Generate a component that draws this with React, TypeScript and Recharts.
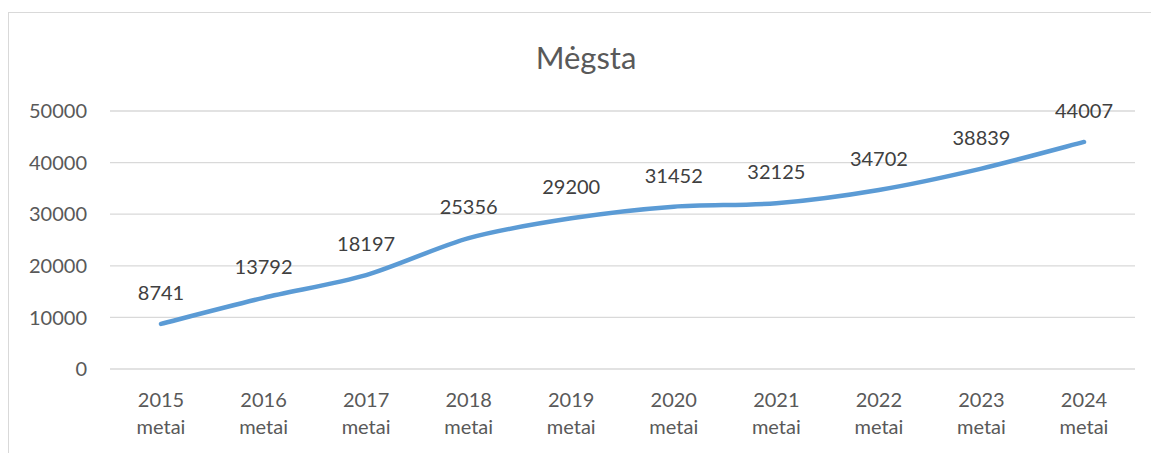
import { LineChart, Line, XAxis, YAxis, CartesianGrid, LabelList } from "recharts"

const years = ["2015", "2016", "2017", "2018", "2019", "2020", "2021", "2022", "2023", "2024"]
const likes = [8741, 13792, 18197, 25356, 29200, 31452, 32125, 34702, 38839, 44007]
const yTicks = [0, 10000, 20000, 30000, 40000, 50000]

const data = years.map((y, i) => ({ year: y, value: likes[i] }))

const font = "Lato, Carlito, Calibri, sans-serif"

// Catmull-Rom style smoothing, close to Excel's "smoothed line"
function smoothCurve(context: any) {
  let pts: number[][] = []
  const k = 1 / 7
  return {
    areaStart() {},
    areaEnd() {},
    lineStart() {
      pts = []
    },
    point(x: number, y: number) {
      pts.push([+x, +y])
    },
    lineEnd() {
      if (!pts.length) return
      context.moveTo(pts[0][0], pts[0][1])
      for (let i = 0; i < pts.length - 1; i++) {
        const p0 = pts[i - 1] || pts[i]
        const p1 = pts[i]
        const p2 = pts[i + 1]
        const p3 = pts[i + 2] || p2
        context.bezierCurveTo(
          p1[0] + (p2[0] - p0[0]) * k,
          p1[1] + (p2[1] - p0[1]) * k,
          p2[0] - (p3[0] - p1[0]) * k,
          p2[1] - (p3[1] - p1[1]) * k,
          p2[0],
          p2[1]
        )
      }
    },
  }
}

function YearTick(props: any) {
  const { x, y, payload } = props
  return (
    <text x={x} y={y} textAnchor="middle" fill="#595959" fontSize={20} fontFamily={font}>
      <tspan x={x} dy={38}>{payload.value}</tspan>
      <tspan x={x} dy={27}>metai</tspan>
    </text>
  )
}

export default function App() {
  return (
    <div
      style={{
        position: "absolute",
        left: 8,
        top: 12,
        width: 1143,
        height: 441,
        borderLeft: "1px solid #d9d9d9",
        borderTop: "1px solid #d9d9d9",
        background: "#fff",
      }}
    >
      <svg width={1142} height={90} style={{ position: "absolute", left: 0, top: 0 }}>
        <text x={577} y={56} textAnchor="middle" fill="#595959" fontSize={31} fontFamily={font}>
          Mėgsta
        </text>
      </svg>
      <LineChart width={1142} height={440} data={data} margin={{ top: 98, right: 16, left: 0, bottom: 0 }}>
        <CartesianGrid vertical={false} stroke="#d9d9d9" strokeWidth={1.3} />
        <XAxis
          dataKey="year"
          axisLine={false}
          tickLine={false}
          tickSize={0}
          tickMargin={0}
          height={84}
          interval={0}
          padding={{ left: 51, right: 51 }}
          tick={<YearTick />}
        />
        <YAxis
          domain={[0, 50000]}
          ticks={yTicks}
          width={101}
          axisLine={false}
          tickLine={false}
          tickSize={0}
          tickMargin={23}
          tick={{ fill: "#595959", fontSize: 20, fontFamily: font }}
        />
        <Line
          type={smoothCurve as any}
          dataKey="value"
          stroke="#5b9bd5"
          strokeWidth={4.5}
          strokeLinecap="round"
          dot={false}
          isAnimationActive={false}
        >
          <LabelList dataKey="value" position="top" offset={24} fill="#404040" fontSize={20} fontFamily={font} />
        </Line>
      </LineChart>
    </div>
  )
}
